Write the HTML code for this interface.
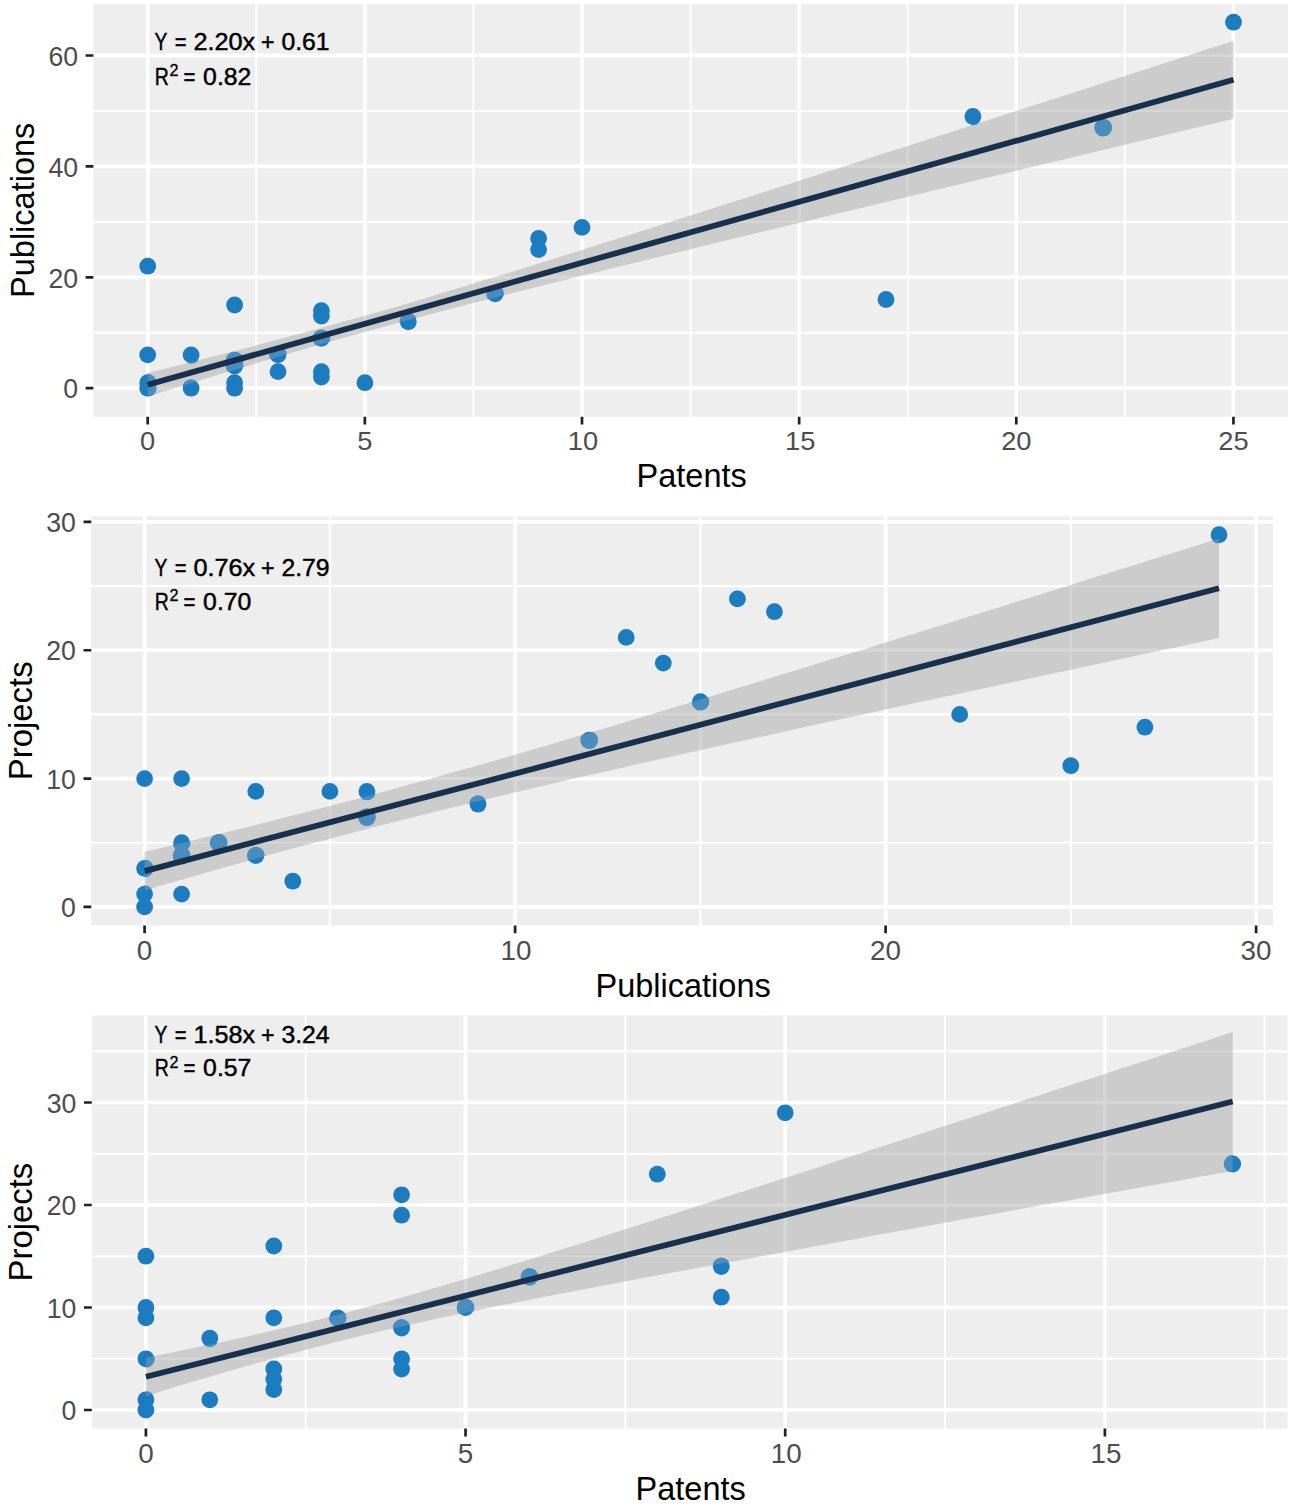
<!DOCTYPE html>
<html><head><meta charset="utf-8"><title>Scatter plots</title>
<style>
html,body{margin:0;padding:0;background:#fff}
svg{display:block}
text{font-family:"Liberation Sans",sans-serif}
.tl{font-size:27px;fill:#4d4d4d}
.at{font-size:32.5px;fill:#000}
.an{font-size:23.2px;fill:#000;stroke:#000;stroke-width:0.45px}
</style></head><body>
<svg width="1299" height="1508" viewBox="0 0 1299 1508">
<rect width="1299" height="1508" fill="#fff"/>
<g>
<rect x="93.40" y="3.90" width="1194.60" height="412.90" fill="#eeeeee"/>
<path d="M256.27 3.90V416.80M473.43 3.90V416.80M690.58 3.90V416.80M907.72 3.90V416.80M1124.88 3.90V416.80M93.40 332.75H1288.00M93.40 221.85H1288.00M93.40 110.95H1288.00" stroke="#fff" stroke-width="2.1" fill="none"/>
<path d="M147.70 3.90V416.80M364.85 3.90V416.80M582.00 3.90V416.80M799.15 3.90V416.80M1016.30 3.90V416.80M1233.45 3.90V416.80M93.40 388.20H1288.00M93.40 277.30H1288.00M93.40 166.40H1288.00M93.40 55.50H1288.00" stroke="#fff" stroke-width="3.7" fill="none"/>
<clipPath id="rib0"><path d="M147.7 373.0L174.8 366.2L202.0 359.3L229.1 352.4L256.3 345.3L283.4 338.1L310.6 330.8L337.7 323.3L364.9 315.7L392.0 307.9L419.1 299.9L446.3 291.8L473.4 283.6L500.6 275.3L527.7 266.9L554.9 258.4L582.0 249.9L609.1 241.3L636.3 232.7L663.4 224.1L690.6 215.5L717.7 206.8L744.9 198.2L772.0 189.5L799.2 180.8L826.3 172.1L853.4 163.4L880.6 154.6L907.7 145.9L934.9 137.2L962.0 128.4L989.2 119.7L1016.3 110.9L1043.4 102.2L1070.6 93.4L1097.7 84.7L1124.9 75.9L1152.0 67.2L1179.2 58.4L1206.3 49.6L1233.5 40.9L1233.5 118.8L1206.3 125.3L1179.2 131.8L1152.0 138.3L1124.9 144.8L1097.7 151.2L1070.6 157.7L1043.4 164.2L1016.3 170.7L989.2 177.2L962.0 183.7L934.9 190.2L907.7 196.8L880.6 203.3L853.4 209.8L826.3 216.3L799.2 222.9L772.0 229.4L744.9 236.0L717.7 242.6L690.6 249.2L663.4 255.8L636.3 262.4L609.1 269.1L582.0 275.8L554.9 282.5L527.7 289.3L500.6 296.1L473.4 303.1L446.3 310.1L419.1 317.2L392.0 324.5L364.9 332.0L337.7 339.6L310.6 347.3L283.4 355.2L256.3 363.3L229.1 371.5L202.0 379.8L174.8 388.2L147.7 396.6Z"/></clipPath>
<path d="M147.7 373.0L174.8 366.2L202.0 359.3L229.1 352.4L256.3 345.3L283.4 338.1L310.6 330.8L337.7 323.3L364.9 315.7L392.0 307.9L419.1 299.9L446.3 291.8L473.4 283.6L500.6 275.3L527.7 266.9L554.9 258.4L582.0 249.9L609.1 241.3L636.3 232.7L663.4 224.1L690.6 215.5L717.7 206.8L744.9 198.2L772.0 189.5L799.2 180.8L826.3 172.1L853.4 163.4L880.6 154.6L907.7 145.9L934.9 137.2L962.0 128.4L989.2 119.7L1016.3 110.9L1043.4 102.2L1070.6 93.4L1097.7 84.7L1124.9 75.9L1152.0 67.2L1179.2 58.4L1206.3 49.6L1233.5 40.9L1233.5 118.8L1206.3 125.3L1179.2 131.8L1152.0 138.3L1124.9 144.8L1097.7 151.2L1070.6 157.7L1043.4 164.2L1016.3 170.7L989.2 177.2L962.0 183.7L934.9 190.2L907.7 196.8L880.6 203.3L853.4 209.8L826.3 216.3L799.2 222.9L772.0 229.4L744.9 236.0L717.7 242.6L690.6 249.2L663.4 255.8L636.3 262.4L609.1 269.1L582.0 275.8L554.9 282.5L527.7 289.3L500.6 296.1L473.4 303.1L446.3 310.1L419.1 317.2L392.0 324.5L364.9 332.0L337.7 339.6L310.6 347.3L283.4 355.2L256.3 363.3L229.1 371.5L202.0 379.8L174.8 388.2L147.7 396.6Z" fill="#999999" fill-opacity="0.4"/>
<g fill="#1d7bbf"><circle cx="147.7" cy="266.2" r="8.4"/><circle cx="147.7" cy="354.9" r="8.4"/><circle cx="147.7" cy="382.7" r="8.4"/><circle cx="147.7" cy="388.2" r="8.4"/><circle cx="191.1" cy="354.9" r="8.4"/><circle cx="191.1" cy="388.2" r="8.4"/><circle cx="234.6" cy="305.0" r="8.4"/><circle cx="234.6" cy="360.5" r="8.4"/><circle cx="234.6" cy="366.0" r="8.4"/><circle cx="234.6" cy="382.7" r="8.4"/><circle cx="234.6" cy="388.2" r="8.4"/><circle cx="278.0" cy="354.9" r="8.4"/><circle cx="278.0" cy="371.6" r="8.4"/><circle cx="321.4" cy="310.6" r="8.4"/><circle cx="321.4" cy="316.1" r="8.4"/><circle cx="321.4" cy="338.3" r="8.4"/><circle cx="321.4" cy="371.6" r="8.4"/><circle cx="321.4" cy="377.1" r="8.4"/><circle cx="364.9" cy="382.7" r="8.4"/><circle cx="408.3" cy="321.7" r="8.4"/><circle cx="495.1" cy="293.9" r="8.4"/><circle cx="538.6" cy="238.5" r="8.4"/><circle cx="538.6" cy="249.6" r="8.4"/><circle cx="582.0" cy="227.4" r="8.4"/><circle cx="886.0" cy="299.5" r="8.4"/><circle cx="972.9" cy="116.5" r="8.4"/><circle cx="1103.2" cy="127.6" r="8.4"/><circle cx="1233.5" cy="22.2" r="8.4"/></g>
<g fill="#4b8cbf" clip-path="url(#rib0)"><circle cx="147.7" cy="382.7" r="8.9"/><circle cx="147.7" cy="388.2" r="8.9"/><circle cx="191.1" cy="354.9" r="8.9"/><circle cx="191.1" cy="388.2" r="8.9"/><circle cx="234.6" cy="360.5" r="8.9"/><circle cx="234.6" cy="366.0" r="8.9"/><circle cx="278.0" cy="354.9" r="8.9"/><circle cx="321.4" cy="338.3" r="8.9"/><circle cx="408.3" cy="321.7" r="8.9"/><circle cx="495.1" cy="293.9" r="8.9"/><circle cx="972.9" cy="116.5" r="8.9"/><circle cx="1103.2" cy="127.6" r="8.9"/></g>
<path d="M147.7 384.8L1233.5 79.8" stroke="#18304c" stroke-width="5.8" fill="none"/>
<path d="M147.70 416.80v7.80M364.85 416.80v7.80M582.00 416.80v7.80M799.15 416.80v7.80M1016.30 416.80v7.80M1233.45 416.80v7.80M93.40 388.20h-7.80M93.40 277.30h-7.80M93.40 166.40h-7.80M93.40 55.50h-7.80" stroke="#222222" stroke-width="2.7" fill="none"/>
<text class="tl" style="font-size:26.0px" transform="translate(147.7 450.0) scale(1.05 1)" text-anchor="middle">0</text><text class="tl" style="font-size:26.0px" transform="translate(364.9 450.0) scale(1.05 1)" text-anchor="middle">5</text><text class="tl" style="font-size:26.0px" transform="translate(583.0 450.0) scale(1.05 1)" text-anchor="middle">10</text><text class="tl" style="font-size:26.0px" transform="translate(800.2 450.0) scale(1.05 1)" text-anchor="middle">15</text><text class="tl" style="font-size:26.0px" transform="translate(1016.3 450.0) scale(1.05 1)" text-anchor="middle">20</text><text class="tl" style="font-size:26.0px" transform="translate(1233.5 450.0) scale(1.05 1)" text-anchor="middle">25</text><text class="tl" style="font-size:27.6px" transform="translate(78.0 398.4) scale(0.965 1)" text-anchor="end">0</text><text class="tl" style="font-size:27.6px" transform="translate(78.0 287.5) scale(0.965 1)" text-anchor="end">20</text><text class="tl" style="font-size:27.6px" transform="translate(78.0 176.6) scale(0.965 1)" text-anchor="end">40</text><text class="tl" style="font-size:27.6px" transform="translate(78.0 65.7) scale(0.965 1)" text-anchor="end">60</text>
<text class="at" x="691.7" y="486.8" text-anchor="middle">Patents</text>
<text class="at" style="font-size:32.5px" transform="translate(34.4 210.3) rotate(-90)" text-anchor="middle">Publications</text>
<g class="an"><text transform="translate(154.4 50.2) scale(0.83 1)">Y</text><text transform="translate(174.8 50.2) scale(0.87 1)">=</text><text transform="translate(193.4 50.2) scale(1.089 1)">2.20x</text><text x="260.9" y="50.2">+</text><text transform="translate(281.4 50.2) scale(1.068 1)">0.61</text><text transform="translate(154.8 84.7) scale(0.84 1)">R</text><text transform="translate(169.6 76.1) scale(0.95 1)" style="font-size:17px;stroke-width:0.3px">2</text><text transform="translate(183.6 84.7) scale(0.88 1)">=</text><text transform="translate(203.1 84.7) scale(1.068 1)">0.82</text></g>
</g>
<g>
<rect x="91.30" y="516.30" width="1181.70" height="409.10" fill="#eeeeee"/>
<path d="M329.85 516.30V925.40M700.35 516.30V925.40M1070.85 516.30V925.40M91.30 842.74H1273.00M91.30 714.40H1273.00M91.30 586.08H1273.00" stroke="#fff" stroke-width="2.1" fill="none"/>
<path d="M144.60 516.30V925.40M515.10 516.30V925.40M885.60 516.30V925.40M1256.10 516.30V925.40M91.30 906.90H1273.00M91.30 778.57H1273.00M91.30 650.24H1273.00M91.30 521.91H1273.00" stroke="#fff" stroke-width="3.7" fill="none"/>
<clipPath id="rib1"><path d="M144.6 851.8L171.5 845.5L198.3 839.1L225.2 832.5L252.0 825.9L278.9 819.1L305.8 812.3L332.6 805.3L359.5 798.2L386.4 791.0L413.2 783.6L440.1 776.1L466.9 768.5L493.8 760.9L520.7 753.1L547.5 745.2L574.4 737.3L601.2 729.4L628.1 721.3L655.0 713.2L681.8 705.1L708.7 697.0L735.5 688.8L762.4 680.5L789.3 672.3L816.1 664.0L843.0 655.7L869.9 647.4L896.7 639.1L923.6 630.8L950.4 622.4L977.3 614.1L1004.2 605.7L1031.0 597.3L1057.9 588.9L1084.7 580.5L1111.6 572.1L1138.5 563.7L1165.3 555.3L1192.2 546.9L1219.0 538.5L1219.0 638.0L1192.2 643.8L1165.3 649.5L1138.5 655.2L1111.6 660.9L1084.7 666.7L1057.9 672.4L1031.0 678.2L1004.2 684.0L977.3 689.7L950.4 695.5L923.6 701.3L896.7 707.1L869.9 712.9L843.0 718.8L816.1 724.6L789.3 730.5L762.4 736.4L735.5 742.3L708.7 748.3L681.8 754.2L655.0 760.3L628.1 766.3L601.2 772.4L574.4 778.6L547.5 784.8L520.7 791.1L493.8 797.5L466.9 803.9L440.1 810.5L413.2 817.2L386.4 824.0L359.5 830.9L332.6 837.9L305.8 845.1L278.9 852.3L252.0 859.7L225.2 867.2L198.3 874.9L171.5 882.6L144.6 890.4Z"/></clipPath>
<path d="M144.6 851.8L171.5 845.5L198.3 839.1L225.2 832.5L252.0 825.9L278.9 819.1L305.8 812.3L332.6 805.3L359.5 798.2L386.4 791.0L413.2 783.6L440.1 776.1L466.9 768.5L493.8 760.9L520.7 753.1L547.5 745.2L574.4 737.3L601.2 729.4L628.1 721.3L655.0 713.2L681.8 705.1L708.7 697.0L735.5 688.8L762.4 680.5L789.3 672.3L816.1 664.0L843.0 655.7L869.9 647.4L896.7 639.1L923.6 630.8L950.4 622.4L977.3 614.1L1004.2 605.7L1031.0 597.3L1057.9 588.9L1084.7 580.5L1111.6 572.1L1138.5 563.7L1165.3 555.3L1192.2 546.9L1219.0 538.5L1219.0 638.0L1192.2 643.8L1165.3 649.5L1138.5 655.2L1111.6 660.9L1084.7 666.7L1057.9 672.4L1031.0 678.2L1004.2 684.0L977.3 689.7L950.4 695.5L923.6 701.3L896.7 707.1L869.9 712.9L843.0 718.8L816.1 724.6L789.3 730.5L762.4 736.4L735.5 742.3L708.7 748.3L681.8 754.2L655.0 760.3L628.1 766.3L601.2 772.4L574.4 778.6L547.5 784.8L520.7 791.1L493.8 797.5L466.9 803.9L440.1 810.5L413.2 817.2L386.4 824.0L359.5 830.9L332.6 837.9L305.8 845.1L278.9 852.3L252.0 859.7L225.2 867.2L198.3 874.9L171.5 882.6L144.6 890.4Z" fill="#999999" fill-opacity="0.4"/>
<g fill="#1d7bbf"><circle cx="144.6" cy="778.6" r="8.4"/><circle cx="144.6" cy="868.4" r="8.4"/><circle cx="144.6" cy="894.1" r="8.4"/><circle cx="144.6" cy="906.9" r="8.4"/><circle cx="181.6" cy="778.6" r="8.4"/><circle cx="181.6" cy="842.7" r="8.4"/><circle cx="181.6" cy="855.6" r="8.4"/><circle cx="181.6" cy="894.1" r="8.4"/><circle cx="218.7" cy="842.7" r="8.4"/><circle cx="255.8" cy="791.4" r="8.4"/><circle cx="255.8" cy="855.6" r="8.4"/><circle cx="292.8" cy="881.2" r="8.4"/><circle cx="329.9" cy="791.4" r="8.4"/><circle cx="366.9" cy="791.4" r="8.4"/><circle cx="366.9" cy="817.1" r="8.4"/><circle cx="478.0" cy="804.2" r="8.4"/><circle cx="589.2" cy="740.1" r="8.4"/><circle cx="626.2" cy="637.4" r="8.4"/><circle cx="663.3" cy="663.1" r="8.4"/><circle cx="700.4" cy="701.6" r="8.4"/><circle cx="737.4" cy="598.9" r="8.4"/><circle cx="774.4" cy="611.7" r="8.4"/><circle cx="959.7" cy="714.4" r="8.4"/><circle cx="1070.8" cy="765.7" r="8.4"/><circle cx="1144.9" cy="727.2" r="8.4"/><circle cx="1219.0" cy="534.7" r="8.4"/></g>
<g fill="#4b8cbf" clip-path="url(#rib1)"><circle cx="144.6" cy="868.4" r="8.9"/><circle cx="144.6" cy="894.1" r="8.9"/><circle cx="181.6" cy="842.7" r="8.9"/><circle cx="181.6" cy="855.6" r="8.9"/><circle cx="218.7" cy="842.7" r="8.9"/><circle cx="255.8" cy="855.6" r="8.9"/><circle cx="366.9" cy="791.4" r="8.9"/><circle cx="366.9" cy="817.1" r="8.9"/><circle cx="478.0" cy="804.2" r="8.9"/><circle cx="589.2" cy="740.1" r="8.9"/><circle cx="700.4" cy="701.6" r="8.9"/><circle cx="1219.0" cy="534.7" r="8.9"/></g>
<path d="M144.6 871.1L1219.0 588.3" stroke="#18304c" stroke-width="5.8" fill="none"/>
<path d="M144.60 925.40v7.80M515.10 925.40v7.80M885.60 925.40v7.80M1256.10 925.40v7.80M91.30 906.90h-7.80M91.30 778.57h-7.80M91.30 650.24h-7.80M91.30 521.91h-7.80" stroke="#222222" stroke-width="2.7" fill="none"/>
<text class="tl" style="font-size:27.3px" transform="translate(144.6 959.6) scale(1.02 1)" text-anchor="middle">0</text><text class="tl" style="font-size:27.3px" transform="translate(516.1 959.6) scale(1.02 1)" text-anchor="middle">10</text><text class="tl" style="font-size:27.3px" transform="translate(885.6 959.6) scale(1.02 1)" text-anchor="middle">20</text><text class="tl" style="font-size:27.3px" transform="translate(1256.1 959.6) scale(1.02 1)" text-anchor="middle">30</text><text class="tl" style="font-size:27.6px" transform="translate(75.9 917.1) scale(0.965 1)" text-anchor="end">0</text><text class="tl" style="font-size:27.6px" transform="translate(75.9 788.8) scale(0.965 1)" text-anchor="end">10</text><text class="tl" style="font-size:27.6px" transform="translate(75.9 660.4) scale(0.965 1)" text-anchor="end">20</text><text class="tl" style="font-size:27.6px" transform="translate(75.9 532.1) scale(0.965 1)" text-anchor="end">30</text>
<text class="at" x="683.1" y="996.6" text-anchor="middle">Publications</text>
<text class="at" style="font-size:32.9px" transform="translate(32.3 720.8) rotate(-90)" text-anchor="middle">Projects</text>
<g class="an"><text transform="translate(154.4 575.9) scale(0.83 1)">Y</text><text transform="translate(174.8 575.9) scale(0.87 1)">=</text><text transform="translate(193.4 575.9) scale(1.089 1)">0.76x</text><text x="260.9" y="575.9">+</text><text transform="translate(281.4 575.9) scale(1.068 1)">2.79</text><text transform="translate(154.8 609.5) scale(0.84 1)">R</text><text transform="translate(169.6 600.9) scale(0.95 1)" style="font-size:17px;stroke-width:0.3px">2</text><text transform="translate(183.6 609.5) scale(0.88 1)">=</text><text transform="translate(203.1 609.5) scale(1.068 1)">0.70</text></g>
</g>
<g>
<rect x="91.80" y="1015.60" width="1195.80" height="413.00" fill="#eeeeee"/>
<path d="M305.73 1015.60V1428.60M625.38 1015.60V1428.60M945.02 1015.60V1428.60M1264.68 1015.60V1428.60M91.80 1358.75H1287.60M91.80 1256.25H1287.60M91.80 1153.75H1287.60M91.80 1051.25H1287.60" stroke="#fff" stroke-width="2.1" fill="none"/>
<path d="M145.90 1015.60V1428.60M465.55 1015.60V1428.60M785.20 1015.60V1428.60M1104.85 1015.60V1428.60M91.80 1410.00H1287.60M91.80 1307.50H1287.60M91.80 1205.00H1287.60M91.80 1102.50H1287.60" stroke="#fff" stroke-width="3.7" fill="none"/>
<clipPath id="rib2"><path d="M145.9 1357.7L173.1 1352.2L200.2 1346.6L227.4 1340.8L254.6 1334.8L281.8 1328.6L308.9 1322.1L336.1 1315.3L363.3 1308.1L390.4 1300.7L417.6 1293.0L444.8 1285.1L471.9 1277.0L499.1 1268.8L526.3 1260.4L553.5 1252.0L580.6 1243.4L607.8 1234.8L635.0 1226.2L662.1 1217.5L689.3 1208.8L716.5 1200.1L743.6 1191.3L770.8 1182.6L798.0 1173.8L825.2 1165.0L852.3 1156.1L879.5 1147.3L906.7 1138.5L933.8 1129.6L961.0 1120.8L988.2 1111.9L1015.3 1103.1L1042.5 1094.2L1069.7 1085.3L1096.9 1076.4L1124.0 1067.6L1151.2 1058.7L1178.4 1049.8L1205.5 1040.9L1232.7 1032.0L1232.7 1170.9L1205.5 1175.8L1178.4 1180.7L1151.2 1185.6L1124.0 1190.4L1096.9 1195.3L1069.7 1200.2L1042.5 1205.1L1015.3 1210.0L988.2 1214.9L961.0 1219.8L933.8 1224.7L906.7 1229.7L879.5 1234.6L852.3 1239.5L825.2 1244.5L798.0 1249.4L770.8 1254.4L743.6 1259.4L716.5 1264.4L689.3 1269.4L662.1 1274.5L635.0 1279.6L607.8 1284.7L580.6 1289.9L553.5 1295.1L526.3 1300.4L499.1 1305.8L471.9 1311.4L444.8 1317.0L417.6 1322.9L390.4 1329.0L363.3 1335.3L336.1 1341.9L308.9 1348.9L281.8 1356.2L254.6 1363.7L227.4 1371.5L200.2 1379.5L173.1 1387.6L145.9 1395.9Z"/></clipPath>
<path d="M145.9 1357.7L173.1 1352.2L200.2 1346.6L227.4 1340.8L254.6 1334.8L281.8 1328.6L308.9 1322.1L336.1 1315.3L363.3 1308.1L390.4 1300.7L417.6 1293.0L444.8 1285.1L471.9 1277.0L499.1 1268.8L526.3 1260.4L553.5 1252.0L580.6 1243.4L607.8 1234.8L635.0 1226.2L662.1 1217.5L689.3 1208.8L716.5 1200.1L743.6 1191.3L770.8 1182.6L798.0 1173.8L825.2 1165.0L852.3 1156.1L879.5 1147.3L906.7 1138.5L933.8 1129.6L961.0 1120.8L988.2 1111.9L1015.3 1103.1L1042.5 1094.2L1069.7 1085.3L1096.9 1076.4L1124.0 1067.6L1151.2 1058.7L1178.4 1049.8L1205.5 1040.9L1232.7 1032.0L1232.7 1170.9L1205.5 1175.8L1178.4 1180.7L1151.2 1185.6L1124.0 1190.4L1096.9 1195.3L1069.7 1200.2L1042.5 1205.1L1015.3 1210.0L988.2 1214.9L961.0 1219.8L933.8 1224.7L906.7 1229.7L879.5 1234.6L852.3 1239.5L825.2 1244.5L798.0 1249.4L770.8 1254.4L743.6 1259.4L716.5 1264.4L689.3 1269.4L662.1 1274.5L635.0 1279.6L607.8 1284.7L580.6 1289.9L553.5 1295.1L526.3 1300.4L499.1 1305.8L471.9 1311.4L444.8 1317.0L417.6 1322.9L390.4 1329.0L363.3 1335.3L336.1 1341.9L308.9 1348.9L281.8 1356.2L254.6 1363.7L227.4 1371.5L200.2 1379.5L173.1 1387.6L145.9 1395.9Z" fill="#999999" fill-opacity="0.4"/>
<g fill="#1d7bbf"><circle cx="145.9" cy="1256.2" r="8.4"/><circle cx="145.9" cy="1307.5" r="8.4"/><circle cx="145.9" cy="1317.8" r="8.4"/><circle cx="145.9" cy="1358.8" r="8.4"/><circle cx="145.9" cy="1399.8" r="8.4"/><circle cx="145.9" cy="1410.0" r="8.4"/><circle cx="209.8" cy="1338.2" r="8.4"/><circle cx="209.8" cy="1399.8" r="8.4"/><circle cx="273.8" cy="1246.0" r="8.4"/><circle cx="273.8" cy="1317.8" r="8.4"/><circle cx="273.8" cy="1369.0" r="8.4"/><circle cx="273.8" cy="1379.2" r="8.4"/><circle cx="273.8" cy="1389.5" r="8.4"/><circle cx="337.7" cy="1317.8" r="8.4"/><circle cx="401.6" cy="1194.8" r="8.4"/><circle cx="401.6" cy="1215.2" r="8.4"/><circle cx="401.6" cy="1328.0" r="8.4"/><circle cx="401.6" cy="1358.8" r="8.4"/><circle cx="401.6" cy="1369.0" r="8.4"/><circle cx="465.5" cy="1307.5" r="8.4"/><circle cx="529.5" cy="1276.8" r="8.4"/><circle cx="657.3" cy="1174.2" r="8.4"/><circle cx="721.3" cy="1266.5" r="8.4"/><circle cx="721.3" cy="1297.2" r="8.4"/><circle cx="785.2" cy="1112.8" r="8.4"/><circle cx="1232.7" cy="1164.0" r="8.4"/></g>
<g fill="#4b8cbf" clip-path="url(#rib2)"><circle cx="145.9" cy="1358.8" r="8.9"/><circle cx="145.9" cy="1399.8" r="8.9"/><circle cx="209.8" cy="1338.2" r="8.9"/><circle cx="337.7" cy="1317.8" r="8.9"/><circle cx="401.6" cy="1328.0" r="8.9"/><circle cx="465.5" cy="1307.5" r="8.9"/><circle cx="529.5" cy="1276.8" r="8.9"/><circle cx="721.3" cy="1266.5" r="8.9"/><circle cx="1232.7" cy="1164.0" r="8.9"/></g>
<path d="M145.9 1376.8L1232.7 1101.5" stroke="#18304c" stroke-width="5.8" fill="none"/>
<path d="M145.90 1428.60v7.80M465.55 1428.60v7.80M785.20 1428.60v7.80M1104.85 1428.60v7.80M91.80 1410.00h-7.80M91.80 1307.50h-7.80M91.80 1205.00h-7.80M91.80 1102.50h-7.80" stroke="#222222" stroke-width="2.7" fill="none"/>
<text class="tl" style="font-size:27.3px" transform="translate(145.9 1463.3) scale(1.02 1)" text-anchor="middle">0</text><text class="tl" style="font-size:27.3px" transform="translate(465.5 1463.3) scale(1.02 1)" text-anchor="middle">5</text><text class="tl" style="font-size:27.3px" transform="translate(786.2 1463.3) scale(1.02 1)" text-anchor="middle">10</text><text class="tl" style="font-size:27.3px" transform="translate(1105.9 1463.3) scale(1.02 1)" text-anchor="middle">15</text><text class="tl" style="font-size:27.6px" transform="translate(76.4 1420.2) scale(0.965 1)" text-anchor="end">0</text><text class="tl" style="font-size:27.6px" transform="translate(76.4 1317.7) scale(0.965 1)" text-anchor="end">10</text><text class="tl" style="font-size:27.6px" transform="translate(76.4 1215.2) scale(0.965 1)" text-anchor="end">20</text><text class="tl" style="font-size:27.6px" transform="translate(76.4 1112.7) scale(0.965 1)" text-anchor="end">30</text>
<text class="at" x="690.7" y="1500.0" text-anchor="middle">Patents</text>
<text class="at" style="font-size:32.9px" transform="translate(32.3 1222.1) rotate(-90)" text-anchor="middle">Projects</text>
<g class="an"><text transform="translate(154.4 1042.8) scale(0.83 1)">Y</text><text transform="translate(174.8 1042.8) scale(0.87 1)">=</text><text transform="translate(193.4 1042.8) scale(1.089 1)">1.58x</text><text x="260.9" y="1042.8">+</text><text transform="translate(281.4 1042.8) scale(1.068 1)">3.24</text><text transform="translate(154.8 1076.3) scale(0.84 1)">R</text><text transform="translate(169.6 1067.7) scale(0.95 1)" style="font-size:17px;stroke-width:0.3px">2</text><text transform="translate(183.6 1076.3) scale(0.88 1)">=</text><text transform="translate(203.1 1076.3) scale(1.068 1)">0.57</text></g>
</g>
</svg>
</body></html>
